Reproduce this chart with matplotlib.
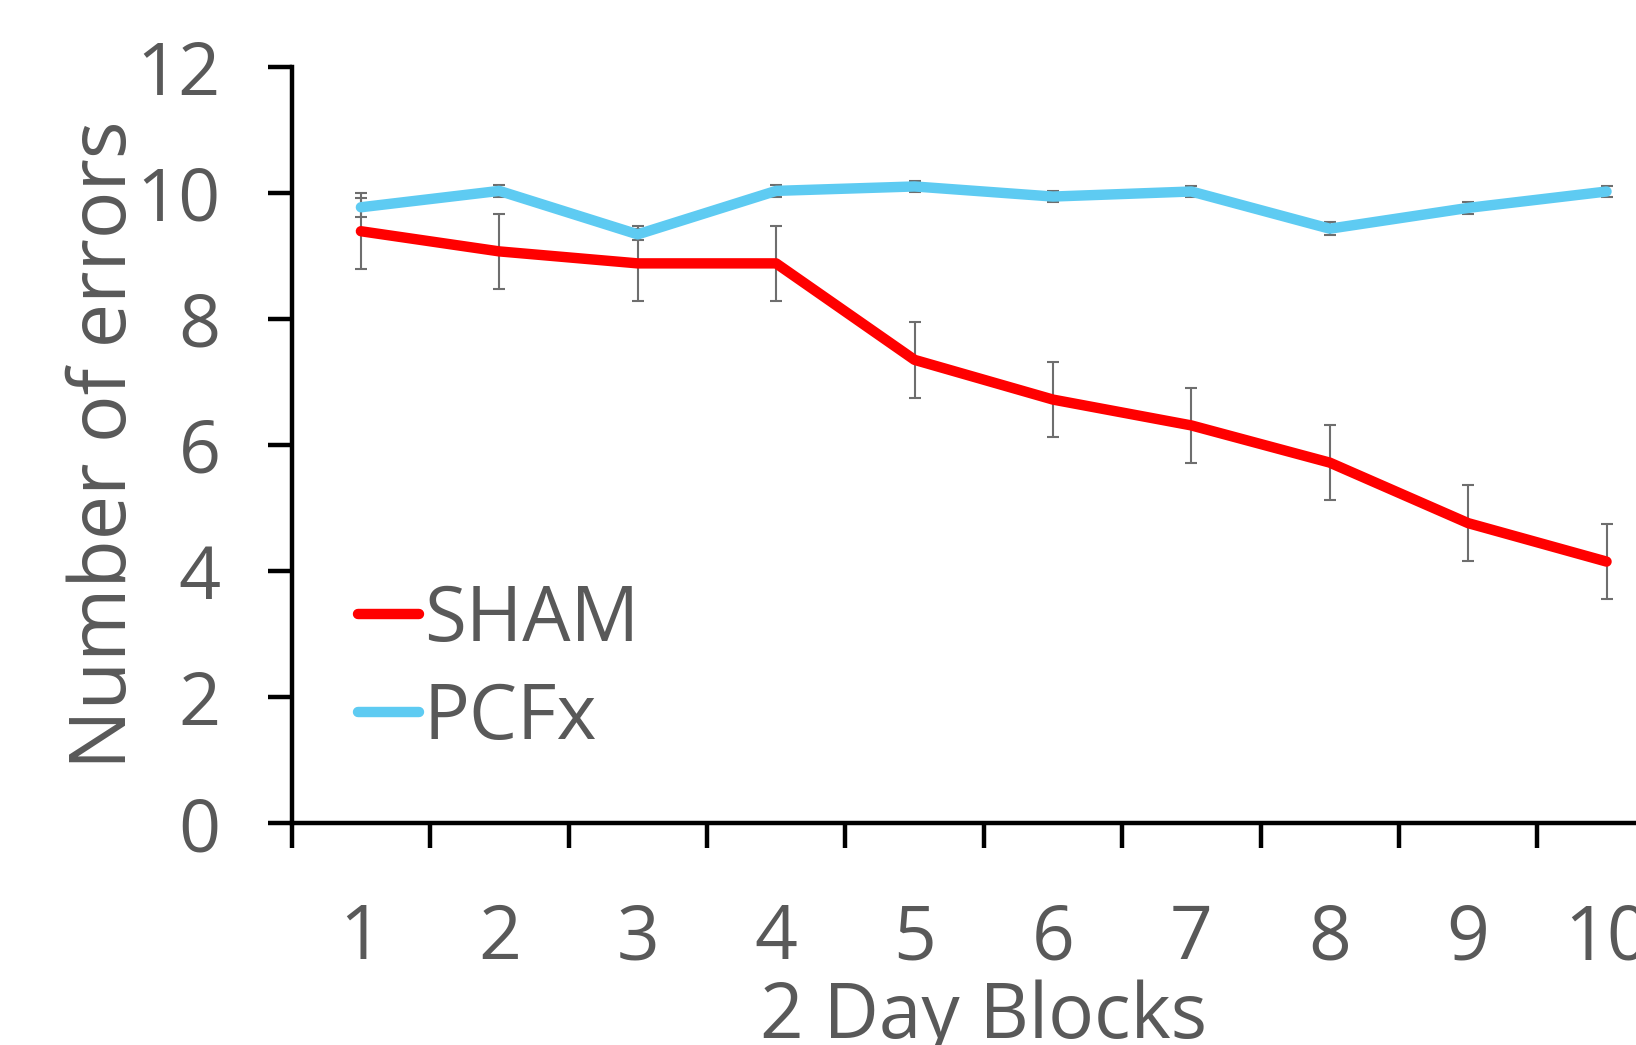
import matplotlib
matplotlib.use("Agg")
import matplotlib.pyplot as plt
import numpy as np

plt.rcParams['font.family'] = ['Open Sans', 'DejaVu Sans']

blocks = [1, 2, 3, 4, 5, 6, 7, 8, 9, 10]
sham = [9.39, 9.07, 8.88, 8.88, 7.35, 6.72, 6.31, 5.72, 4.76, 4.15]
sham_err = [0.6, 0.6, 0.6, 0.6, 0.6, 0.6, 0.6, 0.6, 0.6, 0.6]
pcfx = [9.77, 10.03, 9.34, 10.03, 10.1, 9.94, 10.02, 9.43, 9.76, 10.02]
pcfx_err = [0.15, 0.09, 0.09, 0.09, 0.09, 0.09, 0.09, 0.1, 0.09, 0.09]

grey = '#595959'
red = '#FF0000'
blue = '#5ECBF2'

fig = plt.figure(figsize=(16.36, 10.45), dpi=100)
ax = fig.add_axes([0.1783, 0.2122, 0.846, 0.724])

for vals, errs in [(sham, sham_err), (pcfx, pcfx_err)]:
    ax.errorbar(blocks, vals, yerr=errs, fmt='none', ecolor='#6E6E6E',
                elinewidth=1.5, capsize=4.5, capthick=1.5, zorder=2)
ax.plot(blocks, sham, color=red, lw=7.5, solid_capstyle='round',
        solid_joinstyle='round', label='SHAM', zorder=3)
ax.plot(blocks, pcfx, color=blue, lw=7.5, solid_capstyle='round',
        solid_joinstyle='round', label='PCFx', zorder=3)

ax.set_xlim(0.5, 10.5)
ax.set_ylim(0, 12)
ax.set_yticks(np.arange(0, 13, 2))
ax.set_xticks(blocks)
ax.set_xticks(np.arange(0.5, 11, 1), minor=True)

for s in ['top', 'right']:
    ax.spines[s].set_visible(False)
for s in ['left', 'bottom']:
    ax.spines[s].set_linewidth(3.2)
    ax.spines[s].set_color('black')

ax.tick_params(axis='x', which='major', length=0, pad=57, labelsize=54, labelcolor=grey)
ax.tick_params(axis='x', which='minor', length=18, width=3.2, direction='out', color='black')
ax.tick_params(axis='y', which='major', length=17, width=3.2, pad=34, labelsize=53,
               labelcolor=grey, color='black')

ax.set_xlabel('2 Day Blocks', fontsize=55, color=grey)
ax.xaxis.set_label_coords(0.5, -0.207)
ax.set_ylabel('Number of errors', fontsize=57, color=grey, labelpad=-6)

leg = ax.legend(loc='upper left', bbox_to_anchor=(0.048, 0.318), frameon=False,
                fontsize=55, handlelength=0.8, handletextpad=0.06,
                borderpad=0, borderaxespad=0, labelspacing=0.28)
for t in leg.get_texts():
    t.set_color(grey)

fig.savefig('out.png', dpi=100)
